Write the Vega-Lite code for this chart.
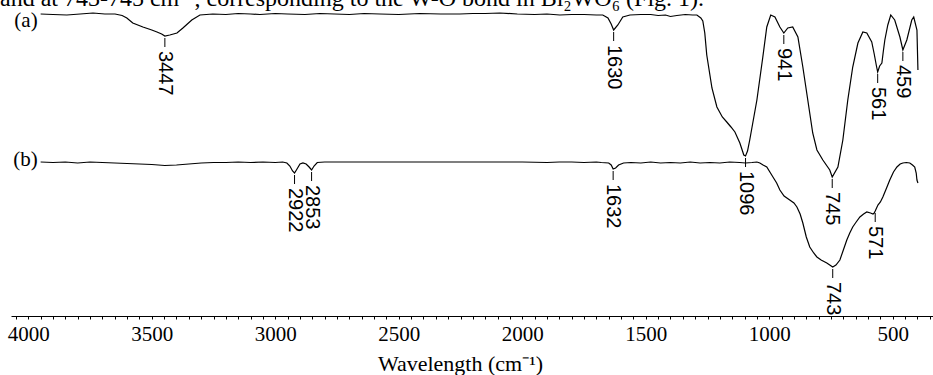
{
"$schema": "https://vega.github.io/schema/vega-lite/v6.json",
"width": 922, "height": 316,
"autosize": {"type": "none"},
"padding": {"left": 11, "top": 0, "right": 0, "bottom": 59},
"background": "white",
"config": {"view": {"stroke": null}, "font": "Liberation Serif", "axis": {"labelFont": "Liberation Serif", "titleFont": "Liberation Serif"}},
"title": {"text": "and at 743-745 cm⁻¹, corresponding to the W-O bond in Bi₂WO₆ (Fig. 1).", "anchor": "start", "frame": "group", "font": "Liberation Serif", "fontSize": 24, "fontWeight": "normal", "color": "black", "offset": 0, "baseline": "alphabetic", "dx": -11, "dy": 30},
"datasets": {
"spectra": [
{"s":"a","wn":3950,"t":302},{"s":"a","wn":3900,"t":301.5},{"s":"a","wn":3844,"t":301},{"s":"a","wn":3790,"t":302},{"s":"a","wn":3738,"t":303},{"s":"a","wn":3690,"t":302},{"s":"a","wn":3649,"t":302},{"s":"a","wn":3620,"t":300.5},{"s":"a","wn":3601,"t":298},{"s":"a","wn":3577,"t":293},{"s":"a","wn":3536,"t":289},{"s":"a","wn":3500,"t":286},{"s":"a","wn":3479,"t":284},{"s":"a","wn":3460,"t":282},{"s":"a","wn":3447,"t":280},{"s":"a","wn":3427,"t":281},{"s":"a","wn":3398,"t":283},{"s":"a","wn":3374,"t":288},{"s":"a","wn":3338,"t":296},{"s":"a","wn":3305,"t":301},{"s":"a","wn":3253,"t":302},{"s":"a","wn":3200,"t":301.5},{"s":"a","wn":3150,"t":302.5},{"s":"a","wn":3100,"t":302},{"s":"a","wn":3062,"t":301.5},{"s":"a","wn":3000,"t":302.5},{"s":"a","wn":2950,"t":302},{"s":"a","wn":2880,"t":301.5},{"s":"a","wn":2819,"t":302.5},{"s":"a","wn":2760,"t":302},{"s":"a","wn":2700,"t":301.5},{"s":"a","wn":2640,"t":302.5},{"s":"a","wn":2577,"t":302},{"s":"a","wn":2500,"t":301.5},{"s":"a","wn":2415,"t":302.5},{"s":"a","wn":2330,"t":302},{"s":"a","wn":2253,"t":302},{"s":"a","wn":2200,"t":302.5},{"s":"a","wn":2150,"t":302.5},{"s":"a","wn":2091,"t":303},{"s":"a","wn":2020,"t":302},{"s":"a","wn":1950,"t":301.5},{"s":"a","wn":1900,"t":302},{"s":"a","wn":1848,"t":301},{"s":"a","wn":1800,"t":301.5},{"s":"a","wn":1750,"t":301.5},{"s":"a","wn":1700,"t":301},{"s":"a","wn":1674,"t":301},{"s":"a","wn":1653,"t":298},{"s":"a","wn":1640,"t":292},{"s":"a","wn":1630,"t":286},{"s":"a","wn":1613,"t":291},{"s":"a","wn":1593,"t":299},{"s":"a","wn":1564,"t":301},{"s":"a","wn":1520,"t":301.5},{"s":"a","wn":1480,"t":301.5},{"s":"a","wn":1450,"t":300.5},{"s":"a","wn":1420,"t":301},{"s":"a","wn":1400,"t":299.5},{"s":"a","wn":1374,"t":300.5},{"s":"a","wn":1340,"t":301.5},{"s":"a","wn":1310,"t":301},{"s":"a","wn":1293,"t":301},{"s":"a","wn":1277,"t":298},{"s":"a","wn":1269,"t":295},{"s":"a","wn":1261,"t":283},{"s":"a","wn":1253,"t":261},{"s":"a","wn":1232,"t":228},{"s":"a","wn":1212,"t":209},{"s":"a","wn":1190,"t":199},{"s":"a","wn":1172,"t":194},{"s":"a","wn":1155,"t":189},{"s":"a","wn":1139,"t":184},{"s":"a","wn":1119,"t":173},{"s":"a","wn":1103,"t":161},{"s":"a","wn":1096,"t":160},{"s":"a","wn":1088,"t":165},{"s":"a","wn":1079,"t":176},{"s":"a","wn":1050,"t":216},{"s":"a","wn":1026,"t":259},{"s":"a","wn":1010,"t":289},{"s":"a","wn":994,"t":301},{"s":"a","wn":977,"t":299},{"s":"a","wn":957,"t":289},{"s":"a","wn":941,"t":283},{"s":"a","wn":925,"t":288},{"s":"a","wn":905,"t":289},{"s":"a","wn":884,"t":279},{"s":"a","wn":864,"t":249},{"s":"a","wn":844,"t":216},{"s":"a","wn":824,"t":183},{"s":"a","wn":807,"t":166},{"s":"a","wn":783,"t":156},{"s":"a","wn":755,"t":146},{"s":"a","wn":745,"t":139},{"s":"a","wn":722,"t":149},{"s":"a","wn":702,"t":176},{"s":"a","wn":682,"t":216},{"s":"a","wn":662,"t":249},{"s":"a","wn":641,"t":273},{"s":"a","wn":621,"t":284},{"s":"a","wn":605,"t":283},{"s":"a","wn":585,"t":274},{"s":"a","wn":575,"t":262},{"s":"a","wn":566,"t":250},{"s":"a","wn":561,"t":244},{"s":"a","wn":553,"t":250},{"s":"a","wn":544,"t":253},{"s":"a","wn":538,"t":265},{"s":"a","wn":532,"t":276},{"s":"a","wn":520,"t":291},{"s":"a","wn":508,"t":301},{"s":"a","wn":492,"t":296},{"s":"a","wn":471,"t":279},{"s":"a","wn":459,"t":266},{"s":"a","wn":443,"t":276},{"s":"a","wn":423,"t":296},{"s":"a","wn":415,"t":299},{"s":"a","wn":402,"t":286},{"s":"a","wn":398,"t":246},
{"s":"b","wn":3950,"t":154},{"s":"b","wn":3900,"t":153.5},{"s":"b","wn":3850,"t":154},{"s":"b","wn":3800,"t":153},{"s":"b","wn":3750,"t":154},{"s":"b","wn":3700,"t":153.5},{"s":"b","wn":3650,"t":153},{"s":"b","wn":3600,"t":152.5},{"s":"b","wn":3550,"t":152},{"s":"b","wn":3500,"t":151.5},{"s":"b","wn":3447,"t":150.5},{"s":"b","wn":3400,"t":151},{"s":"b","wn":3350,"t":152},{"s":"b","wn":3300,"t":153},{"s":"b","wn":3250,"t":153.5},{"s":"b","wn":3200,"t":153.5},{"s":"b","wn":3150,"t":154},{"s":"b","wn":3100,"t":153.5},{"s":"b","wn":3050,"t":154},{"s":"b","wn":3000,"t":153.5},{"s":"b","wn":2970,"t":154},{"s":"b","wn":2953,"t":153},{"s":"b","wn":2941,"t":150},{"s":"b","wn":2930,"t":145},{"s":"b","wn":2922,"t":143},{"s":"b","wn":2912,"t":147},{"s":"b","wn":2900,"t":152},{"s":"b","wn":2888,"t":153},{"s":"b","wn":2875,"t":152},{"s":"b","wn":2863,"t":149},{"s":"b","wn":2853,"t":146},{"s":"b","wn":2843,"t":150},{"s":"b","wn":2830,"t":153.5},{"s":"b","wn":2800,"t":154},{"s":"b","wn":2700,"t":154},{"s":"b","wn":2600,"t":154},{"s":"b","wn":2500,"t":154},{"s":"b","wn":2400,"t":154},{"s":"b","wn":2300,"t":154},{"s":"b","wn":2200,"t":154},{"s":"b","wn":2100,"t":154},{"s":"b","wn":2000,"t":154},{"s":"b","wn":1900,"t":153.5},{"s":"b","wn":1850,"t":154},{"s":"b","wn":1800,"t":154},{"s":"b","wn":1750,"t":153.5},{"s":"b","wn":1700,"t":154},{"s":"b","wn":1680,"t":153.5},{"s":"b","wn":1650,"t":153},{"s":"b","wn":1640,"t":151},{"s":"b","wn":1632,"t":147},{"s":"b","wn":1622,"t":148},{"s":"b","wn":1610,"t":151},{"s":"b","wn":1590,"t":153},{"s":"b","wn":1560,"t":153.5},{"s":"b","wn":1520,"t":153},{"s":"b","wn":1480,"t":154},{"s":"b","wn":1440,"t":153},{"s":"b","wn":1400,"t":153.5},{"s":"b","wn":1360,"t":153},{"s":"b","wn":1320,"t":154},{"s":"b","wn":1280,"t":153},{"s":"b","wn":1240,"t":153.5},{"s":"b","wn":1200,"t":153},{"s":"b","wn":1160,"t":154},{"s":"b","wn":1120,"t":153.5},{"s":"b","wn":1096,"t":153},{"s":"b","wn":1070,"t":153.5},{"s":"b","wn":1050,"t":154},{"s":"b","wn":1038,"t":153},{"s":"b","wn":1025,"t":151},{"s":"b","wn":1010,"t":149},{"s":"b","wn":985,"t":139},{"s":"b","wn":970,"t":133},{"s":"b","wn":957,"t":126},{"s":"b","wn":940,"t":120},{"s":"b","wn":917,"t":116},{"s":"b","wn":900,"t":113},{"s":"b","wn":888,"t":109},{"s":"b","wn":875,"t":102},{"s":"b","wn":864,"t":93},{"s":"b","wn":850,"t":79},{"s":"b","wn":836,"t":69},{"s":"b","wn":820,"t":63},{"s":"b","wn":807,"t":59},{"s":"b","wn":790,"t":56},{"s":"b","wn":767,"t":53},{"s":"b","wn":755,"t":51},{"s":"b","wn":743,"t":49},{"s":"b","wn":730,"t":51},{"s":"b","wn":714,"t":56},{"s":"b","wn":700,"t":66},{"s":"b","wn":686,"t":76},{"s":"b","wn":674,"t":83},{"s":"b","wn":662,"t":89},{"s":"b","wn":648,"t":94},{"s":"b","wn":633,"t":99},{"s":"b","wn":618,"t":102},{"s":"b","wn":605,"t":104},{"s":"b","wn":590,"t":103},{"s":"b","wn":580,"t":102},{"s":"b","wn":575,"t":103},{"s":"b","wn":571,"t":105},{"s":"b","wn":560,"t":111},{"s":"b","wn":550,"t":114},{"s":"b","wn":540,"t":119},{"s":"b","wn":525,"t":128},{"s":"b","wn":512,"t":136},{"s":"b","wn":497,"t":144},{"s":"b","wn":483,"t":149},{"s":"b","wn":470,"t":152},{"s":"b","wn":459,"t":153},{"s":"b","wn":445,"t":153.5},{"s":"b","wn":431,"t":153},{"s":"b","wn":420,"t":151},{"s":"b","wn":411,"t":149},{"s":"b","wn":405,"t":143},{"s":"b","wn":402,"t":136},{"s":"b","wn":398,"t":133}
],
"peaks": [
{"s":"a","wn":3447,"t":280},{"s":"a","wn":1630,"t":286},{"s":"a","wn":1096,"t":160},{"s":"a","wn":941,"t":283},{"s":"a","wn":745,"t":139},{"s":"a","wn":561,"t":244},{"s":"a","wn":459,"t":266},
{"s":"b","wn":2922,"t":143},{"s":"b","wn":2853,"t":146},{"s":"b","wn":1632,"t":147},{"s":"b","wn":743,"t":49},{"s":"b","wn":571,"t":105}
]
},
"resolve": {"axis": {"x": "independent"}},
"layer": [
{"data": {"name": "spectra"}, "mark": {"type": "line", "color": "black", "strokeWidth": 1.2},
 "encoding": {
  "x": {"field": "wn", "type": "quantitative",
    "scale": {"domain": [337, 4070], "reverse": true, "nice": false, "zero": false},
    "axis": {"orient": "bottom", "values": [500,1000,1500,2000,2500,3000,3500,4000], "format": "d",
      "labelFont": "Liberation Serif", "labelFontSize": 21, "labelColor": "black", "labelPadding": 4,
      "tickSize": 3, "tickColor": "black", "tickWidth": 1, "domainColor": "black", "domainWidth": 1, "grid": false,
      "title": "Wavelength (cm⁻¹)", "titleFont": "Liberation Serif", "titleFontSize": 22, "titleFontWeight": "normal", "titleColor": "black",
      "titleBaseline": "alphabetic", "titleAlign": "center", "titleX": 449, "titleY": 54}},
  "y": {"field": "t", "type": "quantitative", "scale": {"domain": [0, 316], "nice": false, "zero": false}, "axis": null},
  "detail": {"field": "s"}}},
{"data": {"name": "peaks"}, "mark": {"type": "rule", "color": "black", "strokeWidth": 1, "yOffset": 2, "y2Offset": 11},
 "encoding": {
  "x": {"field": "wn", "type": "quantitative",
    "axis": {"orient": "bottom", "values": [350,400,450,550,600,650,700,750,800,850,900,950,1050,1100,1150,1200,1250,1300,1350,1400,1450,1550,1600,1650,1700,1750,1800,1850,1900,1950,2050,2100,2150,2200,2250,2300,2350,2400,2450,2550,2600,2650,2700,2750,2800,2850,2900,2950,3050,3100,3150,3200,3250,3300,3350,3400,3450,3550,3600,3650,3700,3750,3800,3850,3900,3950,4050],
      "labels": false, "title": null, "domain": false, "grid": false, "tickSize": 3, "tickColor": "black", "tickWidth": 1}},
  "y": {"field": "t", "type": "quantitative"},
  "y2": {"field": "t"}}},
{"data": {"name": "peaks"}, "mark": {"type": "text", "angle": 90, "align": "left", "baseline": "middle", "dx": 15, "font": "Liberation Sans", "fontSize": 20, "color": "black"},
 "encoding": {
  "x": {"field": "wn", "type": "quantitative", "axis": null},
  "y": {"field": "t", "type": "quantitative"},
  "text": {"field": "wn", "type": "quantitative", "format": "d"}}},
{"data": {"name": "spectra"}, "transform": [{"filter": "datum.s === 'a' && datum.wn === 3950"}], "mark": {"type": "text", "text": "(a)", "align": "right", "baseline": "middle", "dx": -3, "dy": 7, "font": "Liberation Serif", "fontSize": 21, "color": "black"},
 "encoding": {"x": {"field": "wn", "type": "quantitative", "axis": null}, "y": {"field": "t", "type": "quantitative"}}},
{"data": {"name": "spectra"}, "transform": [{"filter": "datum.s === 'b' && datum.wn === 3950"}], "mark": {"type": "text", "text": "(b)", "align": "right", "baseline": "middle", "dx": -3, "dy": -2, "font": "Liberation Serif", "fontSize": 21, "color": "black"},
 "encoding": {"x": {"field": "wn", "type": "quantitative", "axis": null}, "y": {"field": "t", "type": "quantitative"}}}
]
}
